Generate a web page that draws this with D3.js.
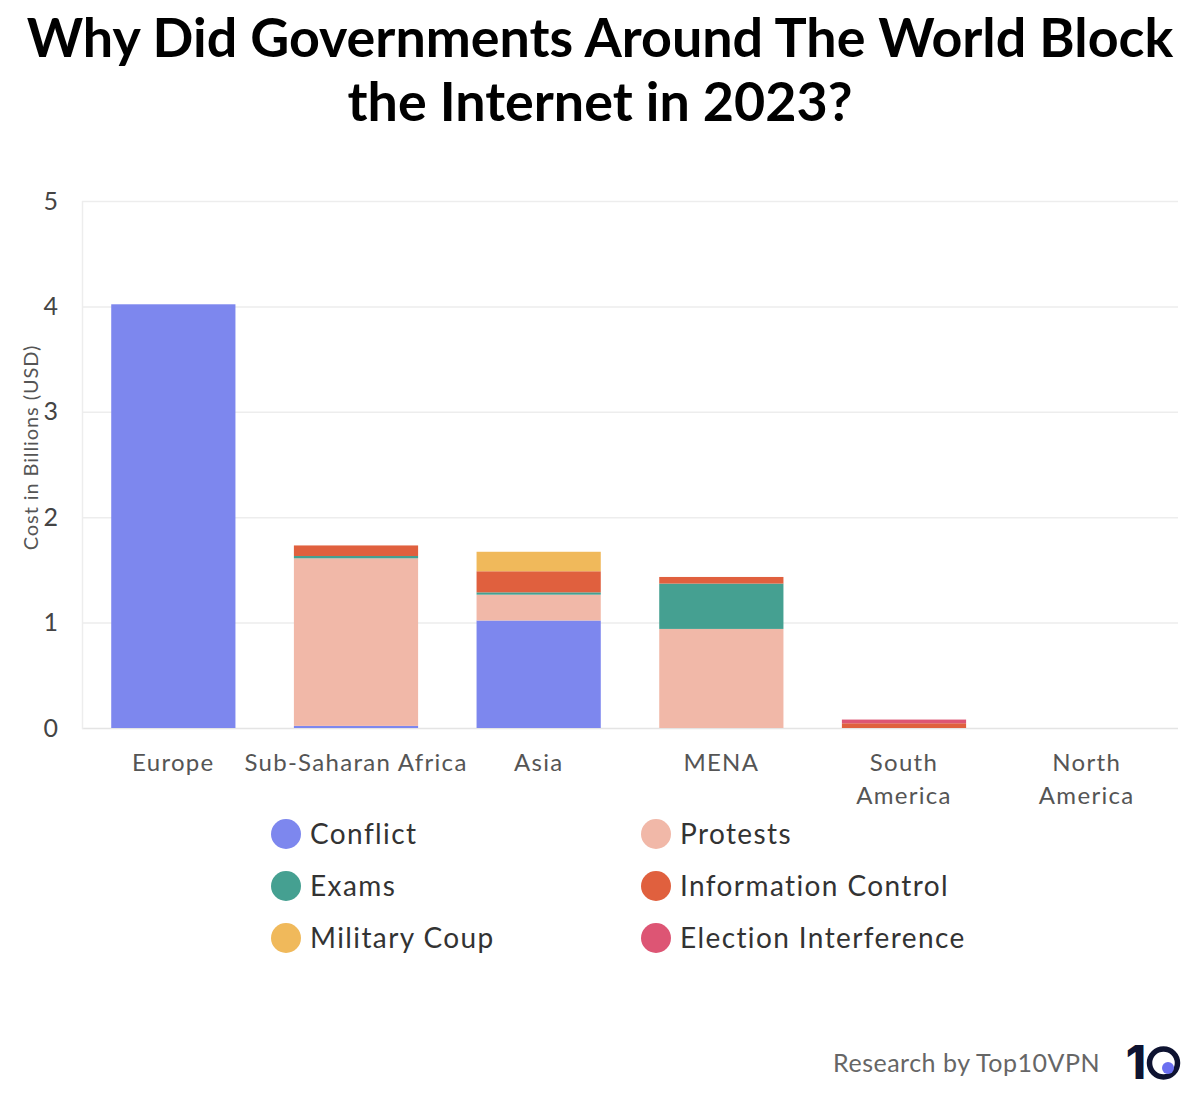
<!DOCTYPE html>
<html>
<head>
<meta charset="utf-8">
<script src="https://cdn.jsdelivr.net/npm/d3@7"></script>
<style>
  html, body { margin: 0; padding: 0; background: #fff; }
  svg { display: block; font-family: "Lato", "Noto Sans", sans-serif; }
</style>
</head>
<body>
<svg id="chart" width="1200" height="1098"></svg>
<script>
// ---- data ----
const regions = ["Europe", "Sub-Saharan Africa", "Asia", "MENA", "South America", "North America"];
const regionLabels = [["Europe"], ["Sub-Saharan Africa"], ["Asia"], ["MENA"], ["South", "America"], ["North", "America"]];
const causes = ["Conflict", "Protests", "Exams", "Information Control", "Military Coup", "Election Interference"];
const conflict     = [4.02, 0.02, 1.02, 0,    0,     0];
const protests     = [0,    1.59, 0.245, 0.94, 0,    0];
const exams        = [0,    0.022, 0.022, 0.43, 0,    0];
const infoControl  = [0,    0.10, 0.20, 0.063, 0.045, 0];
const militaryCoup = [0,    0,    0.185, 0,    0,     0];
const election     = [0,    0,    0,    0,    0.035, 0];
const yTicks = [0, 1, 2, 3, 4, 5];
const colors = ["#7d87ee", "#f1b8a8", "#45a091", "#e0603e", "#f0b95b", "#dd5574"];
const legendOrder = ["Conflict", "Protests", "Exams", "Information Control", "Military Coup", "Election Interference"];

const seriesValues = [conflict, protests, exams, infoControl, militaryCoup, election];
const rows = regions.map((r, i) => {
  const o = { region: r };
  causes.forEach((c, j) => o[c] = seriesValues[j][i]);
  return o;
});

(function draw() {
const svg = d3.select("#chart");
const W = 1200;

// ---- title ----
const titleLines = ["Why Did Governments Around The World Block", "the Internet in 2023?"];
const title = svg.append("g");
const t1 = title.append("text").attr("x", W / 2).attr("y", 57).attr("text-anchor", "middle")
  .attr("font-weight", 700).attr("font-size", 46).attr("fill", "#000").text(titleLines[0]);
const w1 = t1.node().getComputedTextLength();
const fs = 46 * 1147 / w1;
t1.attr("font-size", fs);
title.append("text").attr("x", W / 2).attr("y", 121).attr("text-anchor", "middle")
  .attr("font-weight", 700).attr("font-size", fs).attr("fill", "#000").text(titleLines[1]);

// ---- scales ----
const pLeft = 82, pRight = 1178, pTop = 201, pBottom = 728;
const x = d3.scaleBand().domain(regions).range([pLeft, pRight]).paddingInner(0.32).paddingOuter(0.16);
const y = d3.scaleLinear().domain([0, 5]).range([pBottom, pTop]);
const color = d3.scaleOrdinal().domain(causes).range(colors);

// ---- grid ----
svg.append("g")
  .selectAll("line").data(yTicks).join("line")
  .attr("x1", pLeft).attr("x2", pRight)
  .attr("y1", d => y(d) + 0.5).attr("y2", d => y(d) + 0.5)
  .attr("stroke", d => d === 0 ? "#e4e4e4" : "#ededed").attr("stroke-width", 1.5);
svg.append("line").attr("x1", pLeft + 0.5).attr("x2", pLeft + 0.5)
  .attr("y1", pTop).attr("y2", pBottom + 1).attr("stroke", "#ededed").attr("stroke-width", 1.5);

// ---- y axis ----
const yAxis = svg.append("g").attr("transform", `translate(${pLeft - 21},0)`)
  .call(d3.axisLeft(y).tickValues(yTicks).tickSize(0).tickFormat(d3.format("d")));
yAxis.select(".domain").remove();
yAxis.selectAll("text").attr("font-size", 25).attr("fill", "#444").attr("font-family", "Lato, sans-serif");

svg.append("text").attr("transform", `translate(38,${(pTop + pBottom) / 2 - 17}) rotate(-90)`)
  .attr("text-anchor", "middle").attr("font-size", 20).attr("letter-spacing", 0.9).attr("fill", "#555")
  .text("Cost in Billions (USD)");

// ---- bars ----
const stacked = d3.stack().keys(causes)(rows);
svg.append("g").selectAll("g").data(stacked).join("g")
  .attr("fill", d => color(d.key))
  .selectAll("rect").data(d => d).join("rect")
  .attr("x", d => x(d.data.region))
  .attr("width", x.bandwidth())
  .attr("y", d => y(d[1]))
  .attr("height", d => Math.max(0, y(d[0]) - y(d[1])));

// ---- x axis ----
const xAxis = svg.append("g").attr("transform", `translate(0,${pBottom})`)
  .call(d3.axisBottom(x).tickSize(0));
xAxis.select(".domain").remove();
xAxis.selectAll(".tick text").each(function (d, i) {
  const t = d3.select(this);
  t.text(null).attr("y", 0).attr("dy", null)
    .attr("font-size", 24).attr("letter-spacing", 1.3).attr("fill", "#555").attr("font-family", "Lato, sans-serif");
  regionLabels[i].forEach((line, k) => {
    t.append("tspan").attr("x", 0).attr("y", 43 + k * 33).text(line);
  });
});

// ---- legend ----
const legendPos = (i) => ({ x: i % 2 === 0 ? 286 : 656, y: 834 + Math.floor(i / 2) * 52 });
const items = svg.append("g").selectAll("g").data(legendOrder).join("g")
  .attr("transform", (d, i) => `translate(${legendPos(i).x},${legendPos(i).y})`);
items.append("circle").attr("r", 15).attr("fill", d => color(d));
items.append("text").attr("x", 24).attr("y", 10).attr("font-size", 28).attr("letter-spacing", 1.4)
  .attr("fill", "#333").text(d => d);

// ---- footer ----
svg.append("text").attr("x", 1100).attr("y", 1072).attr("text-anchor", "end")
  .attr("font-size", 25).attr("letter-spacing", 0.5).attr("fill", "#666").text("Research by Top10VPN");
const logo = svg.append("g");
logo.append("text").attr("x", 1146).attr("y", 1079).attr("text-anchor", "end")
  .attr("font-family", "Inter, sans-serif").attr("font-size", 46).attr("font-weight", 800)
  .attr("fill", "#0e1331").text("1");
logo.append("circle").attr("cx", 1163.5).attr("cy", 1063).attr("r", 14)
  .attr("fill", "none").attr("stroke", "#0e1331").attr("stroke-width", 5.5);
logo.append("circle").attr("cx", 1168).attr("cy", 1068).attr("r", 6).attr("fill", "#6b6ff0");
})();
</script>
</body>
</html>
